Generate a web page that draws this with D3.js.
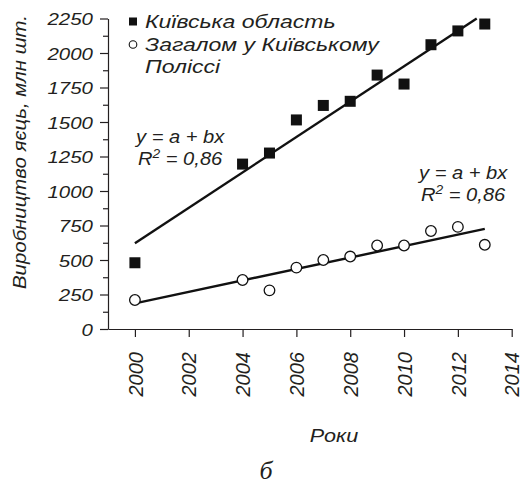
<!DOCTYPE html>
<html>
<head>
<meta charset="utf-8">
<script src="https://cdn.jsdelivr.net/npm/d3@7"></script>
<style>
  body { margin: 0; background: #fff; }
  svg { display: block; }
  text { font-family: "Liberation Sans", Arial, sans-serif; font-style: italic; fill: #231f20; }
</style>
</head>
<body>
<svg id="chart" width="527" height="486"></svg>
<script>
// données
const years = [2000, 2004, 2005, 2006, 2007, 2008, 2009, 2010, 2011, 2012, 2013];
const kyivRegion = [480, 1195, 1275, 1515, 1620, 1650, 1840, 1775, 2060, 2160, 2210];
const polissiaTotal = [210, 355, 280, 445, 500, 525, 605, 605, 710, 740, 610];
const kyivTrend = [[2000, 622], [2012.7, 2250]];
const polissiaTrend = [[2000, 186], [2013, 725]];
const xTicks = [2000, 2002, 2004, 2006, 2008, 2010, 2012, 2014];
const yTicks = [0, 250, 500, 750, 1000, 1250, 1500, 1750, 2000, 2250];
const yMinorTicks = [125, 375, 625, 875, 1125, 1375, 1625, 1875, 2125];
const legendLabels = [["Київська область"], ["Загалом у Київському", "Поліссі"]];
const eqText = "y = a + bx";
const r2Text = " = 0,86";

const SX = 1.28; // le texte de la figure est étiré en largeur

const svg = d3.select("#chart");
svg.append("rect").attr("width", 527).attr("height", 486).attr("fill", "#fff");

const x = d3.scaleLinear().domain([1999, 2014]).range([108, 511.7]);
const y = d3.scaleLinear().domain([0, 2250]).range([329, 18.5]);

// texte horizontal étiré
const stext = (g, px, py, str, size, anchor, sx) => {
  return g.append("text")
    .attr("transform", `translate(${px},${py}) scale(${sx || SX},1)`)
    .attr("text-anchor", anchor || "start")
    .attr("font-size", size)
    .text(str);
};

// Axe Y
const axeYMinor = d3.axisLeft(y).tickValues(yMinorTicks).tickSize(5).tickSizeOuter(0).tickFormat("");
svg.append("g").attr("transform", "translate(108,0)").call(axeYMinor)
  .call(g => g.select(".domain").remove())
  .call(g => g.selectAll("line").attr("stroke", "#231f20").attr("stroke-width", 1.2));

const axeY = d3.axisLeft(y).tickValues(yTicks).tickSize(8).tickSizeOuter(0).tickFormat(d3.format("d"));
const groupeY = svg.append("g").attr("transform", "translate(108,0)").call(axeY);
groupeY.selectAll("line").attr("stroke", "#231f20").attr("stroke-width", 1.2);
groupeY.select(".domain").attr("stroke", "#231f20").attr("stroke-width", 1.2);
groupeY.selectAll("text")
  .attr("x", null).attr("dy", null)
  .attr("transform", `translate(-15,6) scale(${SX},1)`)
  .attr("font-size", 16)
  .attr("font-family", null);

// Axe X
const axeX = d3.axisBottom(x).tickValues(xTicks).tickSize(8).tickSizeOuter(0).tickFormat(d3.format("d"));
const groupeX = svg.append("g").attr("transform", "translate(0,329)").call(axeX);
groupeX.selectAll("line").attr("stroke", "#231f20").attr("stroke-width", 1.2);
groupeX.select(".domain").attr("stroke", "#231f20").attr("stroke-width", 1.2);
groupeX.selectAll("text")
  .attr("y", null).attr("dy", "0.36em")
  .attr("x", -23)
  .attr("transform", "rotate(-90)")
  .attr("text-anchor", "end")
  .attr("font-size", 20)
  .attr("font-family", null);

// Titres
svg.append("text")
  .attr("transform", "translate(26,152) rotate(-90)")
  .attr("text-anchor", "middle")
  .attr("font-size", 17.5)
  .attr("textLength", 274)
  .attr("lengthAdjust", "spacingAndGlyphs")
  .text("Виробництво яєць, млн шт.");

stext(svg, 334, 441.7, "Роки", 18, "middle", 1.2);

svg.append("text")
  .attr("x", 266).attr("y", 479)
  .attr("text-anchor", "middle")
  .attr("font-size", 26)
  .style("font-family", "'Liberation Serif', 'Times New Roman', serif")
  .text("б");

// Droites de tendance
const line = d3.line().x(d => x(d[0])).y(d => y(d[1]));
[kyivTrend, polissiaTrend].forEach(t => {
  svg.append("path").attr("d", line(t))
    .attr("fill", "none").attr("stroke", "#111").attr("stroke-width", 2.4);
});

// Points
const points = years.map((yr, i) => ({ year: yr, kyiv: kyivRegion[i], total: polissiaTotal[i] }));
const sq = 11;
svg.append("g").selectAll("rect").data(points).enter().append("rect")
  .attr("x", d => x(d.year) - sq / 2)
  .attr("y", d => y(d.kyiv) - sq / 2)
  .attr("width", sq).attr("height", sq)
  .attr("fill", "#111");

svg.append("g").selectAll("circle").data(points).enter().append("circle")
  .attr("cx", d => x(d.year))
  .attr("cy", d => y(d.total))
  .attr("r", 5.3)
  .attr("fill", "#fff").attr("stroke", "#111").attr("stroke-width", 1.3);

// Légende
svg.append("rect").attr("x", 129).attr("y", 17.5).attr("width", 8).attr("height", 8).attr("fill", "#111");
svg.append("circle").attr("cx", 133).attr("cy", 44.5).attr("r", 3.8)
  .attr("fill", "#fff").attr("stroke", "#111").attr("stroke-width", 1.1);
stext(svg, 145, 28.3, legendLabels[0][0], 18);
stext(svg, 145, 50.6, legendLabels[1][0], 18);
stext(svg, 145, 72.9, legendLabels[1][1], 18);

// Équations
const equation = (px, py) => {
  stext(svg, px, py, eqText, 17.5, "start", 1.15);
  const t = stext(svg, px + 2, py + 22, "R", 17.5, "start", 1.15);
  t.append("tspan").attr("font-size", 12).attr("dy", -7).text("2");
  t.append("tspan").attr("dy", 7).text(r2Text);
};
equation(136, 143.3);
equation(419, 179.3);
</script>
</body>
</html>
